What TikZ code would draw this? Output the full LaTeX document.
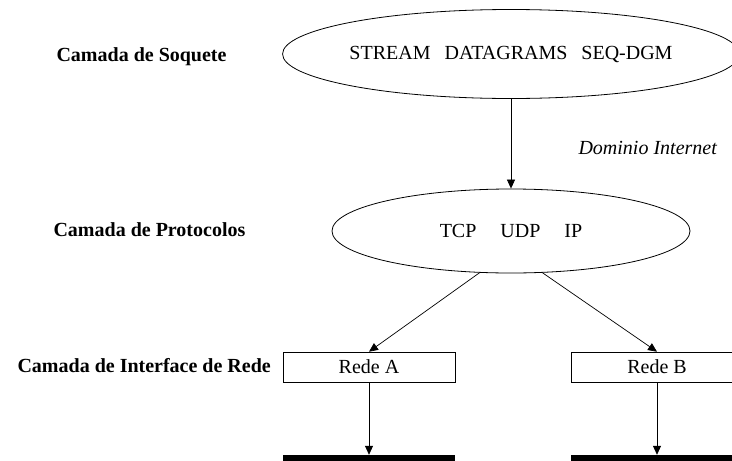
\documentclass[tikz,border=0pt]{standalone}
\usepackage{fontspec}
\setmainfont{Liberation Serif}
\usetikzlibrary{shapes.geometric,arrows.meta}
\begin{document}
\begin{tikzpicture}[x=1pt,y=-1pt,
  every node/.style={font=\fontsize{20}{24}\selectfont},
  layerlabel/.style={anchor=west,font=\fontsize{20}{24}\selectfont\bfseries},
  oval/.style={draw,ellipse,line width=0.8pt,inner sep=0pt},
  netbox/.style={draw,rectangle,line width=0.6pt,minimum width=172pt,minimum height=30pt,inner sep=0pt},
  netline/.style={fill=black,rectangle,minimum width=172pt,minimum height=6pt,inner sep=0pt},
  conn/.style={line width=0.7pt,-{Triangle[length=9pt,width=8pt]}}]
\clip (0,0) rectangle (732,461);
\fill[white] (0,0) rectangle (732,461);

\node[layerlabel] (lsoq) at (53,57) {Camada de Soquete};
\node[layerlabel] (lprot) at (50,230) {Camada de Protocolos};
\node[layerlabel] (lint) at (14,366) {Camada de Interface de Rede};

\node[oval,minimum width=440pt,minimum height=89pt] (sock) at (511,54)
  {STREAM\hspace{14pt}DATAGRAMS\hspace{14pt}SEQ-DGM};
\node[oval,minimum width=358pt,minimum height=84pt] (prot) at (511,231)
  {TCP\hspace{24pt}UDP\hspace{24pt}IP};
\node[font=\fontsize{20}{24}\selectfont\itshape,anchor=west] (dom) at (575,148) {Dominio Internet};

\node[netbox] (ra) at (369,367) {Rede A};
\node[netbox] (rb) at (657,367) {Rede B};

\node[netline] (na) at (369,458) {};
\node[netline] (nb) at (657,458) {};

\draw[conn] (sock.south) -- (prot.north);
\draw[conn] (prot.-127) -- (ra.north);
\draw[conn] (prot.-53) -- (rb.north);
\draw[conn] (ra.south) -- (na.north);
\draw[conn] (rb.south) -- (nb.north);
\end{tikzpicture}
\end{document}
